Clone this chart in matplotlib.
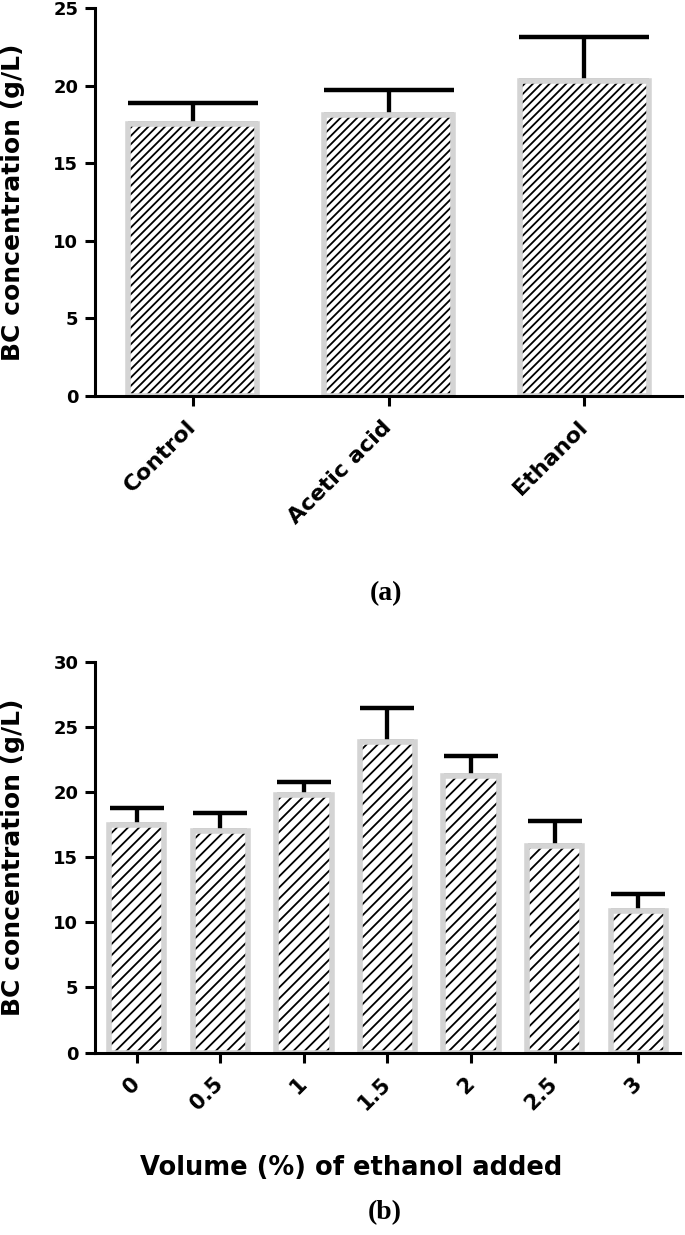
import numpy as np
import matplotlib.pyplot as plt

plt.rcParams['font.family'] = ['DejaVu Sans']
plt.rcParams['font.weight'] = 'bold'
plt.rcParams['axes.labelweight'] = 'bold'
plt.rcParams['hatch.linewidth'] = 1.3

# panel (a): carbon source
treatments = ['Control', 'Acetic acid', 'Ethanol']
bc_treat = [17.5, 18.1, 20.3]
sd_treat = [1.4, 1.6, 2.8]

# panel (b): ethanol volume
ethanol_pct = ['0', '0.5', '1', '1.5', '2', '2.5', '3']
bc_ethanol = [17.5, 17.0, 19.8, 23.9, 21.25, 15.85, 10.9]
sd_ethanol = [1.3, 1.4, 1.0, 2.6, 1.55, 1.95, 1.3]

W, H = 685, 1235


def draw_panel(ax, labels, values, errs, ymax, hatch, capsize, xsize):
    x = np.arange(len(labels))
    # upper error bar only, drawn under the bars
    ax.errorbar(x, values, yerr=[np.zeros(len(values)), errs], fmt='none',
                ecolor='black', elinewidth=3.1, capsize=capsize, capthick=3.2,
                zorder=1)
    ax.bar(x, values, width=0.66, color='white', edgecolor='black',
           linewidth=0, hatch=hatch, zorder=2)
    ax.bar(x, values, width=0.66, color='none', edgecolor='#d4d4d4',
           linewidth=4, zorder=3)

    ax.set_xlim(-0.5, len(labels) - 0.5)
    ax.set_ylim(0, ymax)
    ax.set_yticks(np.arange(0, ymax + 1, 5))
    ax.set_xticks(x)
    ax.set_xticklabels(labels, rotation=45, ha='right', va='center',
                       rotation_mode='anchor')

    for side in ['top', 'right']:
        ax.spines[side].set_visible(False)
    for side in ['left', 'bottom']:
        ax.spines[side].set_linewidth(2.2)
        ax.spines[side].set_zorder(5)
    ax.tick_params(axis='both', length=7, width=2.2)
    ax.tick_params(axis='y', labelsize=13, pad=5)
    ax.tick_params(axis='x', labelsize=xsize, pad=13)

    ax.set_ylabel('BC concentration (g/L)', fontsize=18, fontweight='bold',
                  va='center')
    ax.yaxis.set_label_coords(-0.14, 0.5)


fig = plt.figure(figsize=(W / 100, H / 100), dpi=100)

ax_a = fig.add_axes([95 / W, (H - 396) / H, 587 / W, 388 / H])
draw_panel(ax_a, treatments, bc_treat, sd_treat, 25, '////', 47, 16)

ax_b = fig.add_axes([95 / W, (H - 1052.5) / H, 585 / W, 390.2 / H])
draw_panel(ax_b, ethanol_pct, bc_ethanol, sd_ethanol, 30, '///', 19.5, 15)

fig.text(351 / W, 1 - 1168 / H, 'Volume (%) of ethanol added',
         ha='center', va='center', fontsize=18.5, fontweight='bold')

fig.text(386 / W, 1 - 594 / H, '(a)', ha='center', va='center',
         family='Liberation Serif', fontsize=20, fontweight='bold')
fig.text(385 / W, 1 - 1213 / H, '(b)', ha='center', va='center',
         family='Liberation Serif', fontsize=20, fontweight='bold')

fig.savefig('out.png', dpi=100)
